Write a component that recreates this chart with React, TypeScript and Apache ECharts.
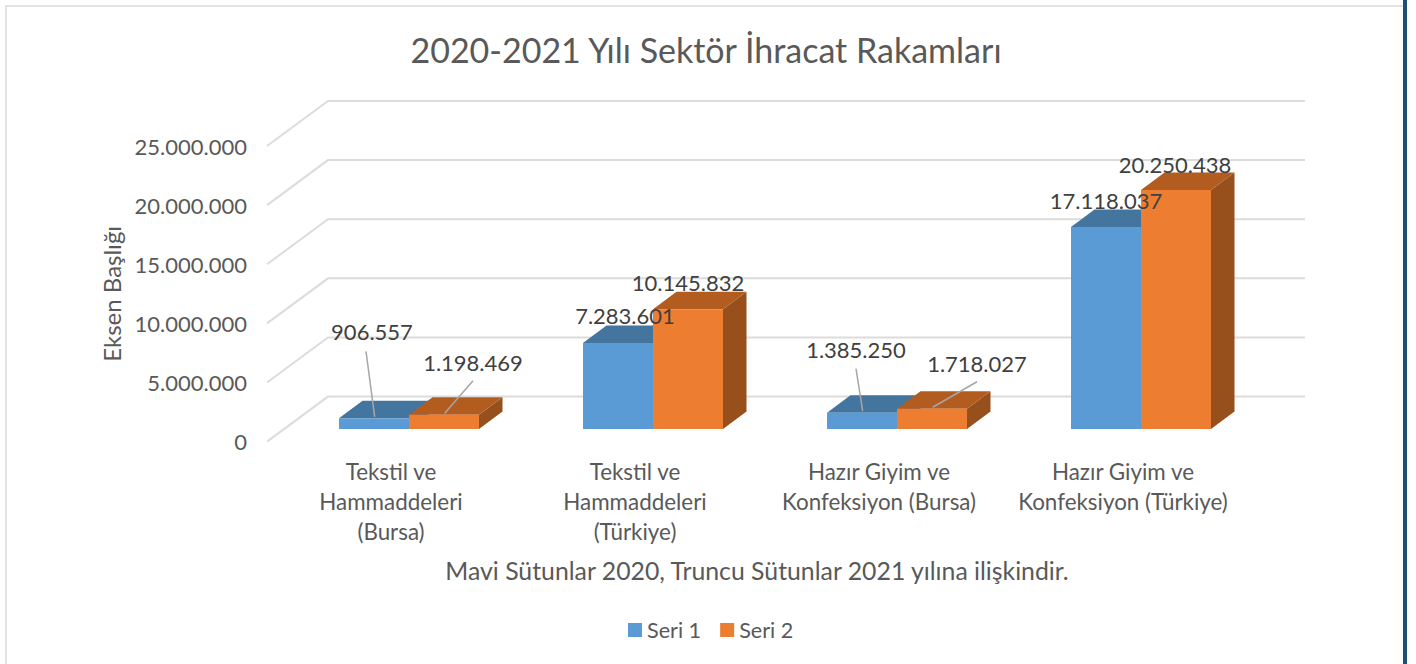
import React, { useEffect, useRef } from "react";
import * as echarts from "echarts";

const categories = [
  "Tekstil ve\nHammaddeleri\n(Bursa)",
  "Tekstil ve\nHammaddeleri\n(Türkiye)",
  "Hazır Giyim ve\nKonfeksiyon (Bursa)",
  "Hazır Giyim ve\nKonfeksiyon (Türkiye)",
];
const seri1 = [906557, 7283601, 1385250, 17118037];
const seri2 = [1198469, 10145832, 1718027, 20250438];
const yTicks = [0, 5000000, 10000000, 15000000, 20000000, 25000000];

const FONT = "Lato";
const TEXT = "#595959";
const LABEL = "#404040";
const BAR_W = 70;
const DEPTH_X = 23.5;
const DEPTH_Y = 17.5;
const WALL_X = 61;
const WALL_Y = 45;
const WALL_W = 977;

const fmt = (v: number) => String(v).replace(/\B(?=(\d{3})+(?!\d))/g, ".");

// label offset from the top centre of each bar's front face, and optional leader start
const labelPos1 = [[-2, -87, -8, -67], [7, -28], [-6, -63, -6, -44], [0, -27]];
const labelPos2 = [[29, -52, 29, -34], [0, -27], [45, -45, 45, -27], [-1, -26]];

const barRender = (
  side: number,
  front: string,
  top: string,
  right: string,
  pos: number[][]
) => (params: any, api: any) => {
  const i = api.value(0);
  const v = api.value(1);
  const t = api.coord([i, v]);
  const b = api.coord([i, 0]);
  const x0 = t[0] + (side < 0 ? -BAR_W : 0);
  const x1 = x0 + BAR_W;
  const cx = (x0 + x1) / 2;
  const yT = t[1];
  const yB = b[1];
  const p = pos[i];
  const poly = (points: number[][], fill: string) => ({
    type: "polygon",
    shape: { points },
    style: { fill, stroke: "none" },
  });
  const children: any[] = [
    poly([[x1, yT], [x1 + DEPTH_X, yT - DEPTH_Y], [x1 + DEPTH_X, yB - DEPTH_Y], [x1, yB]], right),
    poly([[x0, yT], [x0 + DEPTH_X, yT - DEPTH_Y], [x1 + DEPTH_X, yT - DEPTH_Y], [x1, yT]], top),
    poly([[x0, yT], [x1, yT], [x1, yB], [x0, yB]], front),
  ];
  if (p.length > 2) {
    children.push({
      type: "line",
      z2: 50,
      shape: { x1: cx + p[2], y1: yT + p[3], x2: cx + 0.7, y2: yT - 1.5 },
      style: { stroke: "#a6a6a6", lineWidth: 1.5 },
    });
  }
  children.push({
    type: "text",
    z2: 100,
    style: {
      x: cx + p[0],
      y: yT + p[1],
      text: fmt(v),
      fill: LABEL,
      fontFamily: FONT,
      fontSize: 22,
      align: "center",
      verticalAlign: "middle",
    },
  });
  return { type: "group", children };
};

const wallRender = (params: any, api: any) => {
  const p = api.coord([0, api.value(1)]);
  const left = params.coordSys.x - 2;
  const y = p[1];
  return {
    type: "polyline",
    shape: {
      points: [
        [left, y],
        [left + WALL_X, y - WALL_Y],
        [left + WALL_X + WALL_W, y - WALL_Y],
      ],
    },
    style: { stroke: "#dcdcdc", lineWidth: 2, fill: "none" },
  };
};

const BLUE = "#5B9BD5";
const ORANGE = "#ED7D31";

export default function App() {
  const ref = useRef<HTMLDivElement>(null);
  useEffect(() => {
    document.body.style.margin = "0";
    document.body.style.overflow = "hidden";
    const chart = echarts.init(ref.current!, null, { renderer: "svg" });
    chart.setOption({
      animation: false,
      backgroundColor: "#ffffff",
      title: {
        text: "2020-2021 Yılı Sektör İhracat Rakamları",
        left: 701,
        top: 27,
        textAlign: "center",
        textStyle: { fontFamily: FONT, fontSize: 34, fontWeight: "normal", color: TEXT },
      },
      legend: {
        data: ["Seri 1", "Seri 2"],
        left: 623,
        top: 614,
        icon: "rect",
        itemWidth: 14,
        itemHeight: 14,
        itemGap: 19,
        textStyle: { fontFamily: FONT, fontSize: 21.6, color: TEXT },
      },
      grid: [
        { left: 287, top: 134, width: 976, height: 295 },
        { left: 269, top: 146, width: 976, height: 295.6 },
      ],
      xAxis: [
        { gridIndex: 0, type: "category", data: categories, show: false },
        {
          gridIndex: 1,
          type: "category",
          data: categories,
          axisLine: { show: false },
          axisTick: { show: false },
          splitLine: { show: false },
          axisLabel: {
            interval: 0,
            margin: 15,
            fontFamily: FONT,
            fontSize: 22.4,
            lineHeight: 30,
            color: TEXT,
          },
          name: "Mavi Sütunlar 2020, Truncu Sütunlar 2021 yılına ilişkindir.",
          nameLocation: "middle",
          nameGap: 116,
          nameTextStyle: { fontFamily: FONT, fontSize: 24.8, color: TEXT },
        },
      ],
      yAxis: [
        { gridIndex: 0, type: "value", min: 0, max: 25000000, interval: 5000000, show: false },
        {
          gridIndex: 1,
          type: "value",
          min: 0,
          max: 25000000,
          interval: 5000000,
          axisLine: { show: false },
          axisTick: { show: false },
          splitLine: { show: false },
          axisLabel: {
            margin: 22,
            fontFamily: FONT,
            fontSize: 22,
            color: TEXT,
            formatter: (v: number) => fmt(v),
          },
          name: "Eksen Başlığı",
          nameLocation: "middle",
          nameGap: 145,
          nameRotate: 90,
          nameTextStyle: { fontFamily: FONT, fontSize: 24, color: TEXT },
        },
      ],
      series: [
        {
          type: "custom",
          name: "Duvar",
          xAxisIndex: 1,
          yAxisIndex: 1,
          z: 1,
          clip: false,
          silent: true,
          data: yTicks.map((v) => [0, v]),
          renderItem: wallRender,
        },
        {
          type: "custom",
          name: "Seri 1",
          xAxisIndex: 0,
          yAxisIndex: 0,
          z: 2,
          clip: false,
          itemStyle: { color: BLUE },
          data: seri1.map((v, i) => [i, v]),
          renderItem: barRender(-1, BLUE, "#44759F", "#386A96", labelPos1),
        },
        {
          type: "custom",
          name: "Seri 2",
          xAxisIndex: 0,
          yAxisIndex: 0,
          z: 2,
          clip: false,
          itemStyle: { color: ORANGE },
          data: seri2.map((v, i) => [i, v]),
          renderItem: barRender(1, ORANGE, "#B35C20", "#974F1C", labelPos2),
        },
      ],
      graphic: [
        {
          type: "polyline",
          z: 0,
          shape: { points: [[6, 664], [6, 6], [1403, 6]] },
          style: { stroke: "#e2e2e2", lineWidth: 2, fill: "none" },
        },
        {
          type: "rect",
          z: 10,
          shape: { x: 1403, y: 0, width: 4, height: 664 },
          style: { fill: "#1F4E79" },
        },
      ],
    });
    return () => chart.dispose();
  }, []);
  return <div ref={ref} style={{ width: 1416, height: 664 }} />;
}
